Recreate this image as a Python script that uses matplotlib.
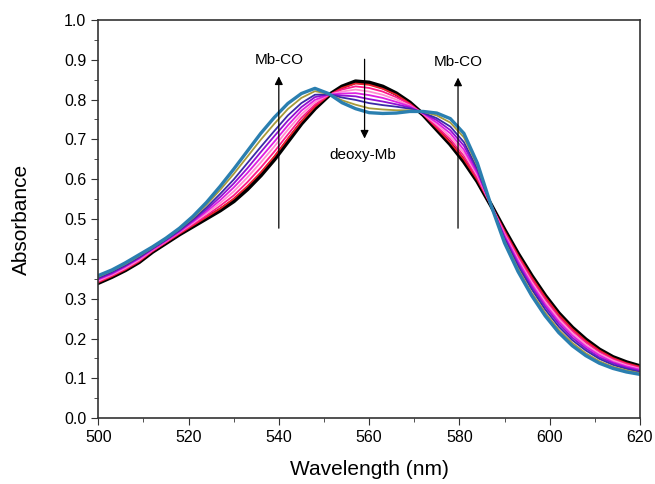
import numpy as np
import matplotlib.pyplot as plt
from matplotlib.ticker import MultipleLocator

plt.rcParams['font.family'] = ['Liberation Sans', 'DejaVu Sans']

wavelength = np.arange(500, 621, 3)

# deoxy-Mb (start) -> Mb-CO (end)
deoxy = [0.340, 0.355, 0.372, 0.392, 0.418, 0.440, 0.462, 0.482, 0.502, 0.522, 0.545,
         0.575, 0.610, 0.650, 0.695, 0.740, 0.778, 0.810, 0.832, 0.845, 0.842, 0.832,
         0.815, 0.792, 0.762, 0.725, 0.688, 0.645, 0.595, 0.535, 0.472, 0.412, 0.357,
         0.307, 0.263, 0.227, 0.197, 0.172, 0.153, 0.140, 0.130]
s1 = [0.341, 0.356, 0.373, 0.393, 0.419, 0.441, 0.463, 0.484, 0.505, 0.526, 0.551,
      0.582, 0.617, 0.657, 0.702, 0.745, 0.782, 0.810, 0.829, 0.840, 0.837, 0.827,
      0.812, 0.790, 0.763, 0.728, 0.692, 0.650, 0.598, 0.535, 0.470, 0.409, 0.354,
      0.304, 0.260, 0.224, 0.194, 0.170, 0.151, 0.138, 0.129]
s2 = [0.343, 0.358, 0.375, 0.395, 0.420, 0.442, 0.465, 0.487, 0.509, 0.533, 0.559,
      0.592, 0.629, 0.669, 0.712, 0.754, 0.787, 0.811, 0.825, 0.833, 0.829, 0.820,
      0.806, 0.788, 0.763, 0.732, 0.700, 0.658, 0.603, 0.535, 0.466, 0.404, 0.348,
      0.298, 0.254, 0.219, 0.190, 0.166, 0.148, 0.136, 0.126]
s3 = [0.345, 0.360, 0.377, 0.397, 0.422, 0.444, 0.467, 0.490, 0.514, 0.540, 0.569,
      0.604, 0.642, 0.682, 0.724, 0.763, 0.793, 0.812, 0.820, 0.825, 0.820, 0.812,
      0.800, 0.785, 0.764, 0.737, 0.707, 0.666, 0.609, 0.535, 0.462, 0.399, 0.342,
      0.292, 0.249, 0.214, 0.185, 0.162, 0.145, 0.133, 0.124]
s4 = [0.348, 0.362, 0.380, 0.400, 0.423, 0.445, 0.468, 0.493, 0.519, 0.547, 0.579,
      0.615, 0.654, 0.694, 0.735, 0.772, 0.799, 0.812, 0.815, 0.816, 0.811, 0.804,
      0.794, 0.783, 0.765, 0.742, 0.715, 0.674, 0.614, 0.535, 0.459, 0.394, 0.336,
      0.286, 0.243, 0.208, 0.180, 0.158, 0.141, 0.130, 0.122]
s5 = [0.350, 0.364, 0.382, 0.402, 0.425, 0.447, 0.470, 0.496, 0.524, 0.555, 0.589,
      0.627, 0.668, 0.708, 0.747, 0.781, 0.806, 0.813, 0.810, 0.808, 0.801, 0.795,
      0.788, 0.780, 0.766, 0.748, 0.723, 0.684, 0.620, 0.535, 0.454, 0.388, 0.330,
      0.280, 0.237, 0.202, 0.175, 0.153, 0.138, 0.127, 0.119]
s6 = [0.352, 0.367, 0.384, 0.404, 0.426, 0.448, 0.472, 0.499, 0.529, 0.563, 0.599,
      0.640, 0.681, 0.721, 0.760, 0.791, 0.812, 0.813, 0.805, 0.799, 0.791, 0.786,
      0.782, 0.777, 0.767, 0.753, 0.732, 0.693, 0.626, 0.535, 0.450, 0.382, 0.324,
      0.273, 0.230, 0.196, 0.170, 0.149, 0.134, 0.124, 0.116]
s7 = [0.355, 0.370, 0.387, 0.407, 0.428, 0.450, 0.475, 0.503, 0.536, 0.573, 0.613,
      0.656, 0.699, 0.739, 0.776, 0.804, 0.821, 0.814, 0.798, 0.787, 0.778, 0.775,
      0.773, 0.773, 0.769, 0.760, 0.742, 0.705, 0.633, 0.535, 0.445, 0.375, 0.315,
      0.265, 0.222, 0.189, 0.163, 0.143, 0.129, 0.120, 0.113]
mbco = [0.358, 0.372, 0.390, 0.410, 0.430, 0.452, 0.477, 0.507, 0.542, 0.582, 0.625,
        0.670, 0.715, 0.755, 0.790, 0.815, 0.828, 0.815, 0.792, 0.777, 0.767, 0.765,
        0.766, 0.770, 0.770, 0.766, 0.752, 0.715, 0.640, 0.535, 0.440, 0.368, 0.308,
        0.257, 0.215, 0.182, 0.157, 0.138, 0.125, 0.116, 0.110]

spectra = [deoxy, s1, s2, s3, s4, s5, s6, s7, mbco]
colors = ["black", "#e8202a", "#ff1a8c", "#ff8fd0", "#e020e0", "#9010d0",
          "#3a2aa8", "#a89a3a", "#2a7fb0"]
widths = [3.2, 1.3, 1.3, 1.3, 1.3, 1.3, 1.3, 1.3, 2.4]

fig = plt.figure(figsize=(6.55, 4.84), dpi=100)
ax = fig.add_axes([0.150, 0.136, 0.827, 0.823])

for spec, c, lw in zip(spectra, colors, widths):
    ax.plot(wavelength, spec, color=c, lw=lw)

# arrows + labels
arrow = dict(arrowstyle="-|>", color="black", lw=0.9, mutation_scale=12)
ax.annotate("", xy=(540, 0.865), xytext=(540, 0.47), arrowprops=arrow)
ax.annotate("", xy=(579.7, 0.862), xytext=(579.7, 0.47), arrowprops=arrow)
ax.annotate("", xy=(559, 0.695), xytext=(559, 0.908), arrowprops=arrow)
ax.text(540, 0.90, "Mb-CO", ha="center", va="center", fontsize=11)
ax.text(579.7, 0.895, "Mb-CO", ha="center", va="center", fontsize=11)
ax.text(558.7, 0.66, "deoxy-Mb", ha="center", va="center", fontsize=11)

ax.set_xlim(500, 620)
ax.set_ylim(0, 1.0)
ax.xaxis.set_major_locator(MultipleLocator(20))
ax.xaxis.set_minor_locator(MultipleLocator(10))
ax.yaxis.set_minor_locator(MultipleLocator(0.05))
ax.set_yticks(np.arange(0, 1.01, 0.1))
ax.set_yticklabels(["%.1f" % v for v in np.arange(0, 1.01, 0.1)])
ax.tick_params(which="both", direction="out", labelsize=11.5, color="#333333")
ax.tick_params(which="major", length=5)
ax.tick_params(which="minor", length=3)
for s in ax.spines.values():
    s.set_linewidth(1.2)
    s.set_color("#333333")
ax.set_xlabel("Wavelength (nm)", fontsize=15)
ax.set_ylabel("Absorbance", fontsize=15)
ax.xaxis.set_label_coords(0.5, -0.105)
ax.yaxis.set_label_coords(-0.125, 0.5)

fig.savefig("out.png", dpi=100)
